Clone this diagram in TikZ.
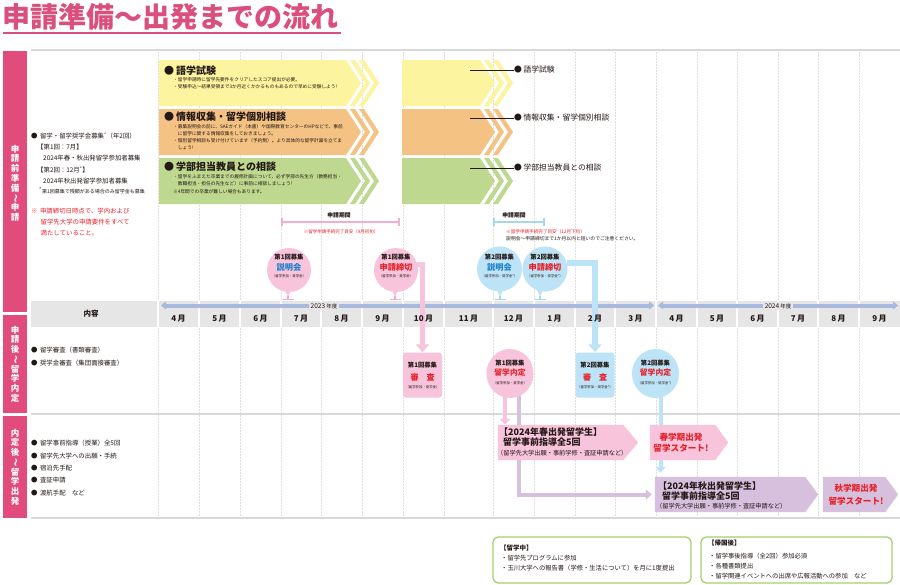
\documentclass[tikz,border=0pt]{standalone}
\usepackage{fontspec}
\setmainfont{Noto Sans CJK JP}
\usetikzlibrary{arrows.meta,calc,shapes.geometric}
\pgfdeclarelayer{back}
\pgfdeclarelayer{conn}
\pgfsetlayers{back,conn,main}
\definecolor{titlepink}{HTML}{DA4F7C}
\definecolor{barpink}{HTML}{E24C7C}
\definecolor{pinkfill}{HTML}{F7C4DB}
\definecolor{pinkdark}{HTML}{F3AECD}
\definecolor{bluefill}{HTML}{BDE3F6}
\definecolor{bluedark}{HTML}{A6D6F0}
\definecolor{purplefill}{HTML}{D6C0DE}
\definecolor{yellowfill}{HTML}{FCF49E}
\definecolor{orangefill}{HTML}{F4C283}
\definecolor{greenfill}{HTML}{BED98F}
\definecolor{gridgray}{HTML}{DEDEDE}
\definecolor{hdrgray}{HTML}{E6E6E6}
\definecolor{sepgray}{HTML}{D8D8D8}
\definecolor{redtxt}{HTML}{E6212A}
\definecolor{bluetxt}{HTML}{1E7FCB}
\definecolor{yearblue}{HTML}{A8B9DF}
\definecolor{greenline}{HTML}{A2D06A}
\definecolor{txtc}{HTML}{231815}
\newcommand\fsz[2]{\fontsize{#1}{#2}\selectfont}
\newcommand\chevarrow[5]{%
  \pgfmathsetmacro\chh{(#5-#4)/2}%
  \fill[#1] (#2,#4) -- (#3,#4) -- ++(15,\chh) -- ++(-15,\chh) -- (#2,#5) -- cycle;
  \fill[#1] ({#3+4},#4) -- ++(5,0) -- ++(15,\chh) -- ++(-15,\chh) -- ++(-5,0) -- ++(15,-\chh) -- cycle;
  \fill[#1] ({#3+13},#4) -- ++(5,0) -- ++(15,\chh) -- ++(-15,\chh) -- ++(-5,0) -- ++(15,-\chh) -- cycle;
}
\newcommand\arrowbox[3]{\fill[#2] (#1.north west) -- (#1.north east) -- ($(#1.east)+(#3,0)$) -- (#1.south east) -- (#1.south west) -- cycle;}
\newcommand\bubpointer[4]{%
  \fill[#1] ({#3-4.5},{#4-5}) -- ({#3+4.5},{#4-5}) -- (#3,{#4+5}) -- cycle;
  \draw[#2, line width=1.3] (#3,{#4+4}) -- (#3,299.5) ({#3-5.5},299.5) -- ({#3+5.5},299.5);}
\tikzset{
  lt/.style={anchor=west, font=\fsz{6.4}{7.5}},
  rt/.style={anchor=west, font=\fsz{6.4}{7.5}, text=redtxt},
  hd/.style={anchor=west, font=\fsz{10}{11}\bfseries},
  sb/.style={anchor=west, font=\fsz{4.7}{5.5}},
  rl/.style={anchor=west, font=\fsz{7.8}{9}},
  mon/.style={font=\fsz{8}{9}\bfseries},
  bt/.style={font=\fsz{6.3}{7}\bfseries},
  bm/.style={font=\fsz{8.2}{9}\bfseries},
  bs/.style={font=\fsz{3.4}{4}},
  pbub/.style={circle, fill=pinkfill, minimum size=44pt},
  bbub/.style={circle, fill=bluefill, minimum size=45pt},
  revbox/.style={rectangle, rounded corners=3pt, minimum width=39pt, minimum height=45pt},
  naibox/.style={ellipse, minimum width=47pt, minimum height=49pt},
  hold/.style={rectangle, minimum width=#1, minimum height=35pt},
  gbox/.style={draw=greenline, line width=1.3pt, rounded corners=5pt, minimum height=46pt},
  ab/.style={anchor=west, font=\fsz{9}{10}\bfseries},
  abs/.style={anchor=west, font=\fsz{6.2}{7}},
  st/.style={font=\fsz{8.6}{9.5}\bfseries, text=redtxt},
  gt/.style={anchor=west, font=\fsz{6.5}{7.5}\bfseries},
  gl/.style={anchor=west, font=\fsz{6.3}{7.5}},
  vtxt/.style={text=white, font=\fsz{8.5}{9.7}\bfseries, align=center},
  linec/.style={draw=txtc, line width=0.8pt},
  pconn/.style={draw=pinkfill, line width=5.5pt, -{Triangle[length=8pt,width=13pt]}},
  bconn/.style={draw=bluefill, line width=5.5pt, -{Triangle[length=8pt,width=13pt]}},
  parr/.style={draw=pinkfill, line width=4pt, -{Triangle[length=6pt,width=10pt]}},
  uarr/.style={draw=purplefill, line width=4pt, -{Triangle[length=6pt,width=10pt]}},
  barr/.style={draw=bluefill, line width=4pt, -{Triangle[length=6pt,width=10pt]}},
}
\begin{document}
\begin{tikzpicture}[x=1pt,y=-1pt, every node/.style={inner sep=0pt, text=txtc}]
\useasboundingbox (0,0) rectangle (900,584);
\begin{pgfonlayer}{back}
\fill[white] (0,0) rectangle (900,584);
\foreach \x in {158,199,240,281,321,362,403,444,493,534,575,615,656,697,737,778,818,859}
  \draw[gridgray, line width=0.6pt, dash pattern=on 2pt off 1pt] (\x,52) -- (\x,518);
\draw[sepgray, line width=2.5pt] (31,50) -- (900,50);
\draw[sepgray, line width=2.5pt] (31,414) -- (900,414);
\draw[sepgray, line width=2.5pt] (31,518) -- (900,518);
% header
\fill[hdrgray] (31,301) rectangle (900,327);
\foreach \x in {158,199,240,281,321,362,403,444,493,534,575,615,656,697,737,778,818,859}
  \draw[white, line width=1.5pt] (\x,301) -- (\x,327);
\draw[yearblue, line width=4pt, {Triangle[length=5pt,width=8pt]}-{Triangle[length=5pt,width=8pt]}] (161,305.5) -- (654,305.5);
\draw[yearblue, line width=4pt, {Triangle[length=5pt,width=8pt]}-{Triangle[length=5pt,width=8pt]}] (658,305.5) -- (898,305.5);
\end{pgfonlayer}

% title
\node[anchor=west, text=titlepink, font=\fsz{28}{30}\bfseries] (title) at (2,17) {申請準備～出発までの流れ};
\draw[titlepink, line width=1.5pt] (3,33) -- (341,33);

% section bars
\fill[barpink] (3,51) rectangle (27,312);
\fill[barpink] (3,315) rectangle (27,413);
\fill[barpink] (3,416) rectangle (27,518);
\node[vtxt] (s1) at (15,183) {申\\請\\前\\準\\備\\\rotatebox[origin=c]{-90}{～}\\申\\請};
\node[vtxt] (s2) at (15,364) {申\\請\\後\\\rotatebox[origin=c]{-90}{～}\\留\\学\\内\\定};
\node[vtxt] (s3) at (15,467) {内\\定\\後\\\rotatebox[origin=c]{-90}{～}\\留\\学\\出\\発};

% header texts
\node[font=\fsz{7.5}{8}\bfseries] (naiyo) at (91,314) {内容};
\node[fill=hdrgray, inner xsep=2pt, inner ysep=1pt, font=\fsz{6.5}{7}] (y23) at (324,306) {2023\,{\fsz{5.5}{6}年度}};
\node[fill=hdrgray, inner xsep=2pt, inner ysep=1pt, font=\fsz{6.5}{7}] (y24) at (778,306) {2024\,{\fsz{5.5}{6}年度}};
\foreach \c/\m [count=\i] in {178.5/4,219.5/5,260.5/6,301/7,341.5/8,382.5/9,423.5/10,468.5/11,513.5/12,554.5/1,595/2,635.5/3,676.5/4,717/5,757.5/6,798/7,838.5/8,879.5/9}
  \node[mon] (mo\i) at (\c,318.5) {\m\,月};

% top arrows
\chevarrow{yellowfill}{159}{346}{60}{106}
\chevarrow{orangefill}{159}{346}{109}{155}
\chevarrow{greenfill}{159}{346}{158}{204}
\chevarrow{yellowfill}{402}{480}{60}{106}
\chevarrow{orangefill}{402}{480}{109}{155}
\chevarrow{greenfill}{402}{480}{158}{204}

\node[hd] (h1) at (164,71) {●\hspace{2pt}語学試験};
\node[sb] (h1a) at (173,80) {・留学申請時に留学先要件をクリアしたスコア提出が必要。};
\node[sb] (h1b) at (173,87) {・受験申込～結果受領まで3か月近くかかるものもあるので早めに受験しよう!};
\node[hd] (h2) at (164,117) {●\hspace{2pt}情報収集・留学個別相談};
\node[sb] (h2a) at (173,127) {・募集説明会の前に、SAEガイド（本書）や国際教育センターのHPなどで、事前};
\node[sb] (h2b) at (173,134) {　に留学に関する情報収集をしておきましょう。};
\node[sb] (h2c) at (173,141) {・個別留学相談も受け付けています（予約制）。より具体的な留学計画を立てま};
\node[sb] (h2d) at (173,148) {　しょう!};
\node[hd] (h3) at (164,167) {●\hspace{2pt}学部担当教員との相談};
\node[sb] (h3a) at (173,177) {・留学をふまえた卒業までの履修計画について、必ず学部の先生方（教務担当・};
\node[sb] (h3b) at (173,184) {　教職担当・担任の先生など）に事前に相談しましょう!};
\node[sb] (h3c) at (173,192) {※4年間での卒業が難しい場合もあります。};

\coordinate (c1) at (470,70);
\coordinate (c2) at (470,118);
\coordinate (c3) at (470,168);
\node[rl] (r1) at (514,70) {●\hspace{1.5pt}語学試験};
\node[rl] (r2) at (514,118) {●\hspace{1.5pt}情報収集・留学個別相談};
\node[rl] (r3) at (514,168) {●\hspace{1.5pt}学部担当教員との相談};
\draw[linec] (c1) -- (r1);
\draw[linec] (c2) -- (r2);
\draw[linec] (c3) -- (r3);

% left panel, section 1
\node[lt] (l1) at (31,136) {●\hspace{2.5pt}留学・留学奨学金募集\textsuperscript{*}（年2回）};
\node[lt] (l2) at (37,147) {【第1回：7月】};
\node[lt] (l3) at (43,158) {2024年春・秋出発留学参加者募集};
\node[lt] (l4) at (37,170) {【第2回：12月\textsuperscript{*}】};
\node[lt] (l5) at (43,181) {2024年秋出発留学参加者募集};
\node[anchor=west, font=\fsz{5}{5.5}] (l6) at (39,191) {\textsuperscript{*}第1回募集で残額がある場合のみ留学金も募集};
\node[rt] (l7) at (31,211) {※\hspace{2.5pt}申請締切日時点で、学内および};
\node[rt] (l8) at (40.5,222) {留学先大学の申請要件をすべて};
\node[rt] (l9) at (40.5,233) {満たしていること。};

% left panel, sections 2 and 3
\node[lt] (m1) at (31,350) {●\hspace{2.5pt}留学審査（書類審査）};
\node[lt] (m2) at (31,363) {●\hspace{2.5pt}奨学金審査（集団面接審査）};
\node[lt] (k1) at (31,443) {●\hspace{2.5pt}留学事前指導（授業）全5回};
\node[lt] (k2) at (31,456) {●\hspace{2.5pt}留学先大学への出願・手続};
\node[lt] (k3) at (31,468) {●\hspace{2.5pt}宿泊先手配};
\node[lt] (k4) at (31,480) {●\hspace{2.5pt}査証申請};
\node[lt] (k5) at (31,493) {●\hspace{2.5pt}渡航手配　など};

% application periods
\node[font=\fsz{5.8}{6}\bfseries] (p1) at (339,215) {申請期間};
\draw[pinkdark, line width=2.5pt] (282,222) -- (399,222);
\draw[pinkdark, line width=1.2pt] (282,218) -- (282,226) (399,218) -- (399,226);
\node[font=\fsz{4.5}{5}, text=redtxt] (p2) at (341,232) {※留学申請手続完了目安（9月初旬）};
\node[font=\fsz{5.8}{6}\bfseries] (q1) at (514,215) {申請期間};
\draw[bluedark, line width=2.5pt] (494,222) -- (544,222);
\draw[bluedark, line width=1.2pt] (494,218) -- (494,226) (544,218) -- (544,226);
\node[anchor=west, font=\fsz{4.6}{5}, text=redtxt] (q2) at (506,232) {※留学申請手続完了目安（12月下旬）};
\node[anchor=west, font=\fsz{4.8}{5}] (q3) at (506,239) {説明会～申請締切まで1か月以内と短いのでご注意ください。};

% bubbles
\bubpointer{pinkfill}{pinkdark}{288}{292}
\bubpointer{pinkfill}{pinkdark}{395}{292}
\bubpointer{bluefill}{bluedark}{500}{291.5}
\bubpointer{bluefill}{bluedark}{540}{291.5}
\node[pbub] (b1) at (289,270) {};
\node[pbub] (b2) at (396,270) {};
\node[bbub] (b3) at (499.5,269) {};
\node[bbub] (b4) at (545,269) {};
\node[bt] (b1t) at (289,257) {第1回募集};
\node[bm, text=bluetxt] (b1m) at (289,267) {説明会};
\node[bs] (b1s) at (289,276) {（留学参加・奨学金）};
\node[bt] (b2t) at (396,257) {第1回募集};
\node[bm, text=redtxt] (b2m) at (396,267) {申請締切};
\node[bs] (b2s) at (396,276) {（留学参加・奨学金）};
\node[bt] (b3t) at (499.5,257) {第2回募集};
\node[bm, text=bluetxt] (b3m) at (499.5,267) {説明会};
\node[bs] (b3s) at (499.5,276) {（留学参加・奨学金*）};
\node[bt] (b4t) at (545,257) {第2回募集};
\node[bm, text=redtxt] (b4m) at (545,267) {申請締切};
\node[bs] (b4s) at (545,276) {（留学参加・奨学金*）};

% review / decision
\node[revbox, fill=pinkfill] (rev1) at (422.5,375) {};
\node[bt] (rev1t) at (422.5,365) {第1回募集};
\node[font=\fsz{8}{9}\bfseries, text=redtxt] (rev1m) at (422.5,377) {審　査};
\node[bs] (rev1s) at (422.5,387) {（留学参加・奨学金）};
\node[naibox, fill=pinkfill] (nai1) at (510,373.5) {};
\node[bt] (nai1t) at (510,363) {第1回募集};
\node[font=\fsz{7.8}{9}\bfseries, text=redtxt] (nai1m) at (510,373) {留学内定};
\node[bs] (nai1s) at (510,383) {（留学参加・奨学金）};
\node[revbox, fill=bluefill] (rev2) at (595,375) {};
\node[bt] (rev2t) at (595,365) {第2回募集};
\node[font=\fsz{8}{9}\bfseries, text=redtxt] (rev2m) at (595,377) {審　査};
\node[bs] (rev2s) at (595,387) {（留学参加・奨学金*）};
\node[naibox, fill=bluefill] (nai2) at (655.5,373.5) {};
\node[bt] (nai2t) at (655.5,363) {第2回募集};
\node[font=\fsz{7.8}{9}\bfseries, text=redtxt] (nai2m) at (655.5,373) {留学内定};
\node[bs] (nai2s) at (655.5,383) {（留学参加・奨学金*）};

% departure boxes
\node[hold=125pt] (spring) at (560.5,442.5) {};
\arrowbox{spring}{pinkfill}{15}
\node[ab] (sp1) at (499,432) {【2024年春出発留学生】};
\node[ab] (sp2) at (503,442.5) {留学事前指導全5回};
\node[abs] (sp3) at (497,453) {（留学先大学出願・事前学修・査証申請など）};
\node[hold=65pt] (ss) at (682.5,442.5) {};
\arrowbox{ss}{pinkfill}{13}
\node[st] (ss1) at (681,437) {春学期出発};
\node[st] (ss2) at (681,448.5) {留学スタート!};
\node[hold=150pt] (aut) at (730,494.5) {};
\arrowbox{aut}{purplefill}{13}
\node[ab] (au1) at (658,486) {【2024年秋出発留学生】};
\node[ab] (au2) at (662,496) {留学事前指導全5回};
\node[abs] (au3) at (656,506) {（留学先大学出願・事前学修・査証申請など）};
\node[hold=62pt] (ast) at (854,494.5) {};
\arrowbox{ast}{purplefill}{13}
\node[st] (ast1) at (856,488) {秋学期出発};
\node[st] (ast2) at (856,501) {留学スタート!};

% bottom boxes
\node[gbox, minimum width=198pt] (g1) at (592,560) {};
\node[gt] (g1a) at (500,548) {【留学中】};
\node[gl] (g1b) at (501,558) {・留学先プログラムに参加};
\node[gl] (g1c) at (501,568) {・玉川大学への報告書（学修・生活について）を月に1度提出};
\node[gbox, minimum width=191pt] (g2) at (796.5,560) {};
\node[gt] (g2a) at (708,543) {【帰国後】};
\node[gl] (g2b) at (709,556) {・留学事後指導（全2回）参加必須};
\node[gl] (g2c) at (709,566) {・各種書類提出};
\node[gl] (g2d) at (709,576) {・留学関連イベントへの出席や広報活動への参加　など};

% connectors
\coordinate (n1a) at ($(nai1.center)+(-5,0)$);
\coordinate (n1b) at ($(nai1.center)+(9,0)$);
\coordinate (n2o) at ($(nai2.center)+(5,0)$);
\begin{pgfonlayer}{conn}
\draw[pconn] (b2.15) -| (rev1.north);
\draw[bconn] (b4.15) -| (rev2.north);
\draw[parr] (n1a) -- (n1a |- spring.north);
\draw[uarr, shorten >=3pt] (n1b) |- (aut.west);
\draw[barr, shorten >=4pt] (n2o) -- (n2o |- aut.north);
\end{pgfonlayer}
\end{tikzpicture}
\end{document}
